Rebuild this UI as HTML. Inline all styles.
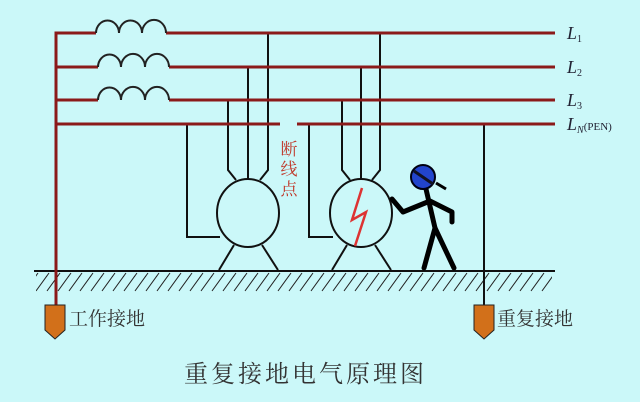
<!DOCTYPE html>
<html><head><meta charset="utf-8"><style>
html,body{margin:0;padding:0;background:#cbf8f9;}
svg{display:block}
</style></head><body>
<svg width="640" height="402" viewBox="0 0 640 402" xmlns="http://www.w3.org/2000/svg">
<rect width="640" height="402" fill="#cbf8f9"/>
<defs>
<pattern id="h" width="11" height="20" patternUnits="userSpaceOnUse" x="36" y="272">
<line x1="0" y1="19" x2="13" y2="1" stroke="#222" stroke-width="1"/>
<line x1="11" y1="19" x2="24" y2="1" stroke="#222" stroke-width="1"/>
<line x1="-11" y1="19" x2="2" y2="1" stroke="#222" stroke-width="1"/>
</pattern>
</defs>
<!-- ground -->
<rect x="36" y="272" width="516" height="20" fill="url(#h)"/>
<line x1="34" y1="271" x2="555" y2="271" stroke="#111" stroke-width="2"/>
<!-- black conductors -->
<g stroke="#111" stroke-width="2" fill="none">
<polyline points="268,33 268,170 260,180"/>
<polyline points="248,67 248,179"/>
<polyline points="228,100 228,170 236,180"/>
<polyline points="187,124 187,237 220,237"/>
<ellipse cx="248" cy="213" rx="31" ry="34"/>
<line x1="234" y1="245" x2="219" y2="270"/>
<line x1="262" y1="245" x2="278" y2="270"/>
<polyline points="380,33 380,170 372,180"/>
<polyline points="361,67 361,179"/>
<polyline points="342,100 342,170 350,180"/>
<polyline points="309,124 309,237 333,237"/>
<ellipse cx="361" cy="213" rx="31" ry="34"/>
<line x1="347" y1="245" x2="332" y2="270"/>
<line x1="375" y1="245" x2="391" y2="270"/>
<line x1="484" y1="124" x2="484" y2="306"/>
</g>
<!-- red lines -->
<g stroke="#8b1a1a" stroke-width="3" fill="none">
<polyline points="56,306 56,33 96,33"/>
<line x1="166" y1="33" x2="555" y2="33"/>
<line x1="56" y1="67" x2="98" y2="67"/>
<line x1="169" y1="67" x2="555" y2="67"/>
<line x1="56" y1="100" x2="98" y2="100"/>
<line x1="169" y1="100" x2="555" y2="100"/>
<line x1="56" y1="124" x2="280" y2="124"/>
<line x1="297" y1="124" x2="555" y2="124"/>
</g>
<g stroke="#222" stroke-width="2" fill="none">
<path d="M96,33 a11,12 0 0 1 23,0 a11,12 0 0 1 23,0 a11,12 0 0 1 24,0"/>
<path d="M98,67 a11,12 0 0 1 23,0 a11,12 0 0 1 24,0 a11,12 0 0 1 24,0"/>
<path d="M98,100 a11,12 0 0 1 23,0 a11,12 0 0 1 24,0 a11,12 0 0 1 24,0"/>
</g>
<!-- lightning -->
<polyline points="362,188 352,220 366,212 355,246" stroke="#d33" stroke-width="2.5" fill="none"/>
<!-- person -->
<g stroke="#000" stroke-width="5" fill="none" stroke-linecap="round" stroke-linejoin="round">
<polyline points="426,189 435,228 424,268"/>
<polyline points="435,228 454,268"/>
<polyline points="392,199 403,212 430,201 452,212 452,222"/>
</g>
<line x1="436" y1="183" x2="446" y2="189" stroke="#000" stroke-width="3"/>
<circle cx="423" cy="177" r="12" fill="#2244cc" stroke="#001" stroke-width="2"/>
<line x1="414" y1="171" x2="433" y2="184" stroke="#112" stroke-width="3"/>
<!-- electrodes -->
<path d="M45,305 H65 V330 L55,339 L45,330 Z" fill="#d2701a" stroke="#222" stroke-width="1"/>
<path d="M474,305 H494 V330 L484,339 L474,330 Z" fill="#d2701a" stroke="#222" stroke-width="1"/>
<!-- text -->
<g font-family="'Liberation Serif','Noto Serif CJK SC',serif">
<text x="69" y="325" font-size="19" fill="#333">工作接地</text>
<text x="497" y="325" font-size="19" fill="#333">重复接地</text>
<text x="184" y="382" font-size="24" fill="#333" letter-spacing="3">重复接地电气原理图</text>
<g fill="#c0392b" font-size="17" text-anchor="middle">
<text x="289" y="155">断</text>
<text x="289" y="175">线</text>
<text x="289" y="195">点</text>
</g>
<g fill="#223" font-style="italic" font-size="18">
<text x="567" y="39">L<tspan font-size="10" font-style="normal" dy="3">1</tspan></text>
<text x="567" y="73">L<tspan font-size="10" font-style="normal" dy="3">2</tspan></text>
<text x="567" y="106">L<tspan font-size="10" font-style="normal" dy="3">3</tspan></text>
<text x="567" y="130">L<tspan font-size="10" dy="3">N</tspan><tspan font-size="11" font-style="normal" dy="-3">(PEN)</tspan></text>
</g>
</g>
</svg>
</body></html>
